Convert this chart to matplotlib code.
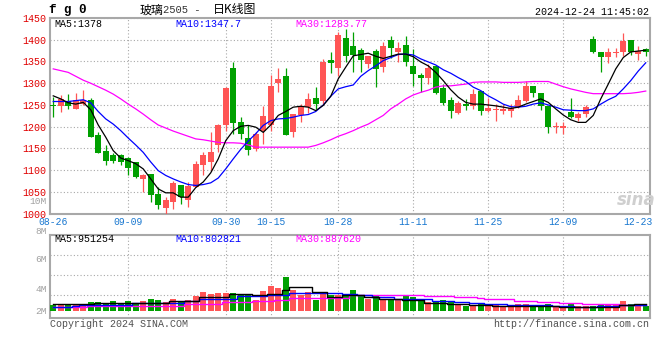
import numpy as np
import matplotlib
matplotlib.use("Agg")
import matplotlib.pyplot as plt

# daily candles, 2024-08-26 .. 2024-12-24 (80 trading days)
OPEN = [1250, 1247, 1260, 1241, 1252, 1261, 1180, 1145, 1134, 1134,
        1128, 1118, 1080, 1092, 1046, 1012, 1028, 1065, 1031, 1061,
        1111, 1120, 1157, 1203, 1336, 1210, 1174, 1149, 1191, 1203,
        1300, 1317, 1187, 1226, 1245, 1266, 1258, 1354, 1336, 1405,
        1386, 1376, 1344, 1375, 1338, 1400, 1372, 1388, 1340, 1319,
        1311, 1340, 1289, 1262, 1232, 1252, 1247, 1283, 1237, 1238,
        1237, 1237, 1245, 1260, 1294, 1278, 1247, 1199, 1197, 1235,
        1221, 1229, 1401, 1372, 1361, 1369, 1372, 1399, 1367, 1378]
HIGH = [1268, 1273, 1275, 1277, 1284, 1267, 1187, 1157, 1140, 1138,
        1130, 1120, 1092, 1092, 1061, 1038, 1076, 1065, 1073, 1122,
        1143, 1187, 1206, 1291, 1349, 1222, 1203, 1187, 1247, 1319,
        1334, 1334, 1229, 1252, 1278, 1291, 1356, 1371, 1418, 1424,
        1417, 1380, 1363, 1378, 1395, 1408, 1395, 1409, 1378, 1323,
        1344, 1340, 1298, 1268, 1260, 1264, 1287, 1283, 1265, 1252,
        1252, 1252, 1273, 1306, 1294, 1278, 1247, 1210, 1210, 1266,
        1233, 1250, 1409, 1372, 1380, 1380, 1415, 1399, 1385, 1382]
LOW = [1222, 1235, 1241, 1241, 1250, 1176, 1140, 1111, 1116, 1112,
       1088, 1082, 1050, 1027, 1011, 1000, 1011, 1023, 1015, 1061,
       1090, 1099, 1141, 1191, 1184, 1172, 1134, 1145, 1161, 1191,
       1279, 1181, 1176, 1210, 1232, 1241, 1252, 1323, 1317, 1348,
       1325, 1325, 1334, 1291, 1325, 1359, 1349, 1339, 1294, 1279,
       1298, 1275, 1250, 1219, 1229, 1239, 1241, 1227, 1233, 1214,
       1229, 1223, 1242, 1256, 1268, 1239, 1186, 1186, 1184, 1219,
       1214, 1223, 1369, 1325, 1346, 1361, 1363, 1365, 1354, 1363]
CLOSE = [1248, 1264, 1247, 1262, 1261, 1176, 1140, 1122, 1122, 1120,
         1106, 1084, 1088, 1044, 1019, 1031, 1070, 1038, 1063, 1115,
         1134, 1143, 1204, 1289, 1209, 1184, 1147, 1184, 1224, 1294,
         1310, 1181, 1229, 1247, 1264, 1252, 1349, 1346, 1411, 1363,
         1365, 1354, 1363, 1333, 1386, 1380, 1382, 1349, 1321, 1313,
         1334, 1278, 1255, 1237, 1255, 1247, 1275, 1237, 1242, 1240,
         1240, 1243, 1262, 1294, 1278, 1247, 1199, 1201, 1201, 1222,
         1229, 1246, 1372, 1361, 1372, 1371, 1397, 1371, 1373, 1371]

MA5 = [1271, 1264, 1255, 1252, 1256, 1239, 1204, 1176, 1145, 1128,
       1122, 1115, 1103, 1080, 1057, 1048, 1048, 1038, 1038, 1060,
       1073, 1094, 1126, 1168, 1191, 1201, 1203, 1199, 1187, 1204,
       1226, 1235, 1245, 1247, 1245, 1237, 1249, 1270, 1310, 1337,
       1363, 1366, 1369, 1362, 1357, 1362, 1367, 1367, 1361, 1349,
       1340, 1325, 1306, 1285, 1268, 1256, 1252, 1252, 1250, 1248,
       1245, 1242, 1245, 1252, 1258, 1264, 1256, 1241, 1227, 1216,
       1210, 1210, 1226, 1264, 1298, 1333, 1359, 1372, 1374, 1376]
MA10 = [1258, 1258, 1258, 1260, 1262, 1255, 1235, 1218, 1206, 1191,
        1174, 1158, 1141, 1119, 1099, 1088, 1080, 1073, 1067, 1065,
        1067, 1071, 1082, 1103, 1126, 1148, 1167, 1184, 1203, 1214,
        1218, 1219, 1222, 1226, 1228, 1235, 1250, 1270, 1287, 1292,
        1296, 1316, 1329, 1340, 1352, 1359, 1366, 1367, 1365, 1356,
        1349, 1342, 1331, 1323, 1313, 1304, 1291, 1283, 1271, 1262,
        1252, 1246, 1245, 1247, 1252, 1255, 1250, 1245, 1239, 1238,
        1237, 1237, 1241, 1252, 1262, 1270, 1287, 1306, 1328, 1347]
MA30 = [1333, 1329, 1325, 1316, 1307, 1300, 1292, 1284, 1275, 1264,
        1252, 1241, 1229, 1216, 1204, 1197, 1190, 1184, 1178, 1172,
        1170, 1167, 1164, 1163, 1163, 1162, 1158, 1153, 1153, 1153,
        1153, 1153, 1153, 1153, 1153, 1157, 1163, 1170, 1178, 1184,
        1191, 1199, 1206, 1216, 1226, 1241, 1252, 1264, 1273, 1279,
        1284, 1291, 1294, 1294, 1296, 1298, 1302, 1303, 1303, 1303,
        1302, 1302, 1302, 1303, 1304, 1304, 1304, 1298, 1292, 1287,
        1283, 1279, 1276, 1276, 1276, 1276, 1276, 1277, 1279, 1282]

# volume, thousand lots
VOL = [874, 1012, 874, 874, 1012, 1242, 1242, 1104, 1380, 1104,
       1380, 1012, 1380, 1702, 1518, 1242, 1702, 1380, 1518, 2116,
       2622, 2392, 2484, 2484, 2484, 2346, 2346, 1518, 2714, 3496,
       3174, 4692, 2898, 2162, 2622, 1518, 2484, 2162, 2162, 2254,
       2944, 2162, 1702, 2162, 1702, 1702, 1518, 2162, 1932, 1380,
       1242, 1242, 1518, 1242, 1012, 690, 874, 1012, 874, 874,
       690, 874, 1012, 1012, 690, 874, 1012, 690, 690, 1012,
       690, 690, 690, 874, 1012, 1012, 1380, 1012, 690, 690]
VMA5 = [920, 966, 920, 920, 920, 1012, 1104, 1104, 1104, 1104,
        1104, 1104, 1104, 1104, 1104, 1104, 1334, 1334, 1334, 1334,
        1932, 1932, 1932, 1932, 2392, 2392, 2392, 2162, 2162, 2392,
        2392, 2852, 3312, 3312, 3312, 2622, 2622, 1932, 1932, 2162,
        2162, 2162, 1932, 1932, 1610, 1610, 1610, 1472, 1472, 1472,
        1150, 1150, 1150, 1012, 1012, 1012, 782, 782, 782, 690,
        690, 690, 690, 690, 690, 644, 644, 644, 552, 552,
        552, 506, 506, 506, 552, 552, 782, 782, 920, 951]
VMA10 = [506, 552, 598, 644, 782, 782, 782, 782, 782, 782,
         782, 1104, 1104, 1104, 1104, 1104, 1104, 1104, 1334, 1334,
         1702, 1702, 1702, 1702, 1702, 2070, 2070, 2070, 2070, 2254,
         2254, 2254, 2530, 2530, 2530, 2530, 2530, 2530, 2530, 2392,
         2392, 2254, 2254, 1932, 1932, 1932, 1702, 1702, 1702, 1702,
         1702, 1426, 1426, 1426, 1242, 1242, 1104, 1104, 1012, 1012,
         1012, 874, 874, 782, 782, 782, 782, 690, 690, 690,
         598, 598, 598, 644, 690, 736, 782, 782, 782, 803]
VMA30 = [598, 598, 598, 598, 598, 644, 644, 644, 644, 644,
         690, 690, 690, 690, 690, 690, 736, 736, 1012, 1012,
         1012, 1012, 1012, 1242, 1242, 1242, 1242, 1380, 1380, 1380,
         1472, 1472, 1794, 1794, 1794, 1794, 1794, 1794, 1794, 1794,
         2162, 2162, 2162, 2162, 2162, 2162, 2162, 2162, 2162, 2162,
         2024, 2024, 2024, 2024, 1886, 1886, 1886, 1794, 1656, 1656,
         1656, 1656, 1380, 1380, 1380, 1242, 1242, 1242, 1058, 1058,
         1058, 920, 920, 920, 920, 920, 874, 874, 874, 888]

TICK_POS = [0, 10, 23, 29, 38, 48, 58, 68, 78]
TICK_LBL = ["08-26", "09-09", "09-30", "10-15", "10-28",
            "11-11", "11-25", "12-09", "12-23"]
PRICE_TICKS = [1000, 1050, 1100, 1150, 1200, 1250, 1300, 1350, 1400, 1450]
VOL_LBL = ["10M", "8M", "6M", "4M", "2M"]

RED, GREEN = "#ff5555", "#00a000"
GRID = "#a8a8a8"
MONO = ["Liberation Mono", "DejaVu Sans Mono"]
CJK = ["Noto Sans CJK SC"]
W, H = 660, 360

def fx(px):
    return px / W

def fy(py):
    return 1 - py / H

fig = plt.figure(figsize=(6.6, 3.6), dpi=100)
ax = fig.add_axes([fx(50), fy(213.7), 599.5 / W, 195.7 / H])
axv = fig.add_axes([fx(50), fy(317.5), 599.5 / W, 83 / H])

x = np.arange(len(CLOSE))
o, c = np.array(OPEN), np.array(CLOSE)
cols = [RED if cc >= oo else GREEN for oo, cc in zip(o, c)]

# candles
ax.vlines(x, LOW, HIGH, colors=cols, lw=0.9, zorder=3)
ax.bar(x, np.maximum(np.abs(c - o), 2), 0.76, bottom=np.minimum(o, c),
       color=cols, lw=0, zorder=3)
ax.plot(x, MA30, color="#ff00ff", lw=0.9, zorder=4)
ax.plot(x, MA10, color="#0000ff", lw=0.9, zorder=4)
ax.plot(x, MA5, color="black", lw=0.9, zorder=4)

# volume
axv.bar(x, VOL, 0.76, color=cols, lw=0, zorder=3)
axv.step(x, VMA30, where="mid", color="#ff00ff", lw=1.0, zorder=4)
axv.step(x, VMA10, where="mid", color="#0000ff", lw=1.0, zorder=4)
axv.step(x, VMA5, where="mid", color="black", lw=1.0, zorder=4)

for a in (ax, axv):
    a.set_xlim(-0.43, 79.5)
    for s in a.spines.values():
        s.set_color(GRID)
        s.set_linewidth(1.5)
    for p in TICK_POS[1:-1]:
        a.axvline(p, color=GRID, lw=0.8, ls=(0, (1, 2)), zorder=1)

ax.set_ylim(1000, 1450)
ax.set_yticks(PRICE_TICKS)
ax.set_yticklabels([str(v) for v in PRICE_TICKS], color="#e00000",
                   family=MONO, fontsize=7.2)
ax.set_xticks(TICK_POS)
ax.set_xticklabels(TICK_LBL, color="#1a78d0", family=MONO, fontsize=7)
ax.tick_params(length=0, pad=2.5)
ax.grid(axis="y", color=GRID, lw=0.8, ls=(0, (1, 2)), zorder=1)

axv.set_ylim(-897, 10557)
axv.set_xticks([])
axv.set_yticks([])
for f in (0.267, 0.508, 0.749):
    axv.plot([0, 1], [f, f], transform=axv.transAxes, color=GRID,
             lw=0.8, ls=(0, (1, 2)), zorder=1)

# labels
tk = dict(family=MONO, fontsize=7.2, va="center")
fig.text(fx(49), fy(10), "f g 0", family=MONO, fontsize=9,
         fontweight="bold", va="center")
fig.text(fx(140), fy(10), "玻璃", family=CJK, fontsize=8.6, va="center")
fig.text(fx(163), fy(10), "2505 -", family=MONO, fontsize=7.6,
         color="#333333", va="center")
fig.text(fx(213), fy(10), "日K线图", family=CJK, fontsize=8.6, va="center")
fig.text(fx(649), fy(12), "2024-12-24 11:45:02", ha="right", **tk)
fig.text(fx(54), fy(24), "MA5:1378", color="black", **tk)
fig.text(fx(175), fy(24), "MA10:1347.7", color="#0000ff", **tk)
fig.text(fx(295), fy(24), "MA30:1283.77", color="#ff00ff", **tk)
fig.text(fx(54), fy(239), "MA5:951254", color="black", **tk)
fig.text(fx(175), fy(239), "MA10:802821", color="#0000ff", **tk)
fig.text(fx(295), fy(239), "MA30:887620", color="#ff00ff", **tk)
for lbl, py in zip(VOL_LBL, [201, 231, 260, 290, 311]):
    fig.text(fx(47), fy(py), lbl, ha="right", color="#a0a0a0",
             family=MONO, fontsize=6.8, va="center")
fig.text(fx(50), fy(324), "Copyright 2024 SINA.COM", color="#505050", **tk)
fig.text(fx(649), fy(324), "http://finance.sina.com.cn", ha="right",
         color="#505050", **tk)
fig.text(fx(636), fy(200), "sina", ha="center", color="#cfcfcf",
         fontsize=12, fontweight="bold", style="italic", va="center")

fig.savefig("out.png", dpi=100)
